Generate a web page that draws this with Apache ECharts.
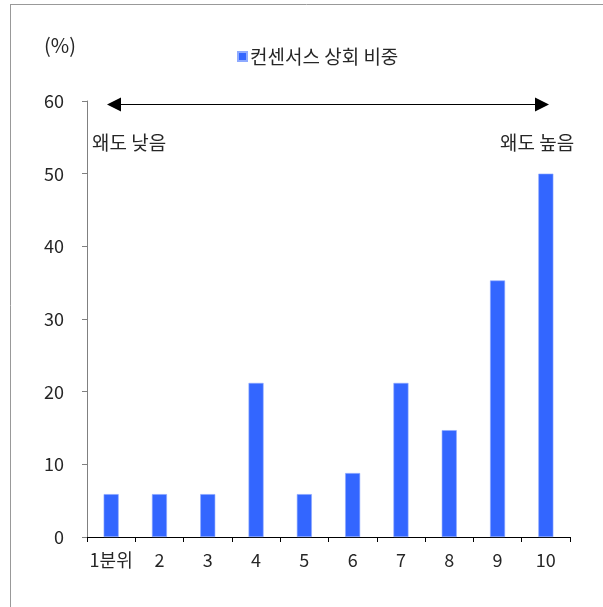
<!DOCTYPE html>
<html><head><meta charset="utf-8">
<script src="https://cdn.jsdelivr.net/npm/echarts@6/dist/echarts.min.js"></script>
<style>html,body{margin:0;padding:0;background:#fff}#c{width:603px;height:607px}</style>
</head><body><div id="c"></div>
<script>
const categories = ['1분위','2','3','4','5','6','7','8','9','10'];
const shareAboveConsensus = [5.9, 5.9, 5.9, 21.2, 5.9, 8.8, 21.2, 14.7, 35.3, 50.0];
const seriesName = '컨센서스 상회 비중';
const yTicks = {min: 0, max: 60, interval: 10};
const FONT = '"Noto Sans CJK KR", "Noto Sans", sans-serif';

const chart = echarts.init(document.getElementById('c'), null, {renderer: 'canvas'});
chart.setOption({
  animation: false,
  backgroundColor: '#fff',
  textStyle: {fontFamily: FONT},
  legend: {
    data: [seriesName],
    left: 232, top: 42,
    icon: 'rect', itemWidth: 9, itemHeight: 9, itemGap: 4,
    textStyle: {fontFamily: FONT, fontSize: 19, color: '#262626', padding: [0,0,0,-2]}
  },
  grid: {left: 87, right: 33, top: 101, bottom: 70, containLabel: false},
  xAxis: {
    type: 'category', data: categories, boundaryGap: true,
    axisLine: {show: true, lineStyle: {color: '#000', width: 1}},
    axisTick: {show: true, interval: 0, length: 5, lineStyle: {color: '#000'}},
    axisLabel: {interval: 0, margin: 14, fontFamily: FONT, fontSize: 18, color: '#262626'}
  },
  yAxis: {
    type: 'value', min: yTicks.min, max: yTicks.max, interval: yTicks.interval,
    splitLine: {show: false},
    axisLine: {show: true, lineStyle: {color: '#808080', width: 1}},
    axisTick: {show: true, length: 5, lineStyle: {color: '#808080'}},
    axisLabel: {margin: 23, fontFamily: FONT, fontSize: 18, color: '#262626'}
  },
  series: [{
    name: seriesName, type: 'bar', data: shareAboveConsensus, barWidth: 15,
    itemStyle: {color: '#3366ff', borderColor: '#8eaaff', borderWidth: 0.6}
  }],
  graphic: [
    {type: 'line', shape: {x1: 10, y1: 4.5, x2: 603, y2: 4.5}, style: {stroke: '#999', lineWidth: 1}},
    {type: 'line', shape: {x1: 10.5, y1: 4, x2: 10.5, y2: 607}, style: {stroke: '#999', lineWidth: 1}},
    {type: 'line', shape: {x1: 118, y1: 104.5, x2: 538, y2: 104.5}, style: {stroke: '#000', lineWidth: 1}},
    {type: 'polygon', shape: {points: [[107,104.5],[121,97.5],[121,111.5]]}, style: {fill: '#000'}},
    {type: 'polygon', shape: {points: [[549,104.5],[535,97.5],[535,111.5]]}, style: {fill: '#000'}},
    {type: 'text', x: 44, y: 45, style: {text: '(%)', font: '20px ' + FONT, fill: '#262626', verticalAlign: 'middle'}},
    {type: 'text', x: 92, y: 143, style: {text: '왜도 낮음', font: '19px ' + FONT, fill: '#262626', verticalAlign: 'middle'}},
    {type: 'text', x: 500, y: 143, style: {text: '왜도 높음', font: '19px ' + FONT, fill: '#262626', verticalAlign: 'middle'}}
  ]
});
</script></body></html>
